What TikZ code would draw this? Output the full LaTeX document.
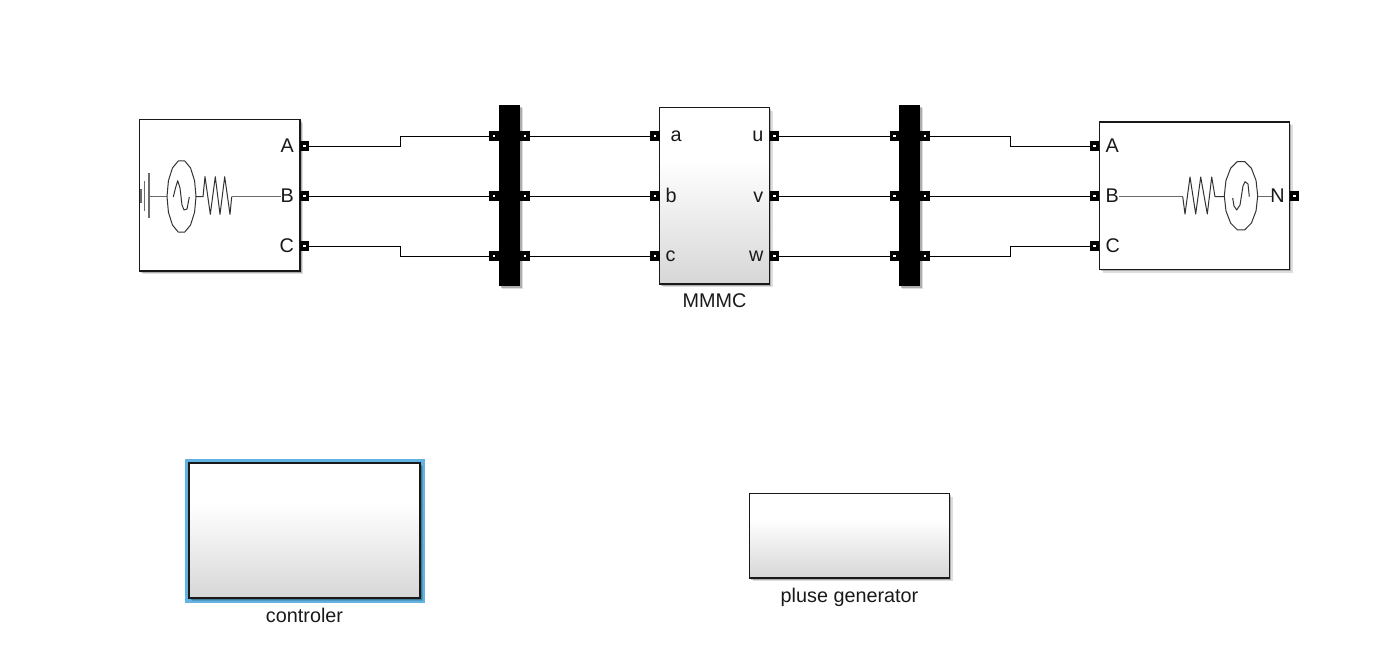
\documentclass[tikz,border=0pt]{standalone}
\usepackage{fontspec}
\setmainfont{Liberation Sans}
\usetikzlibrary{shadows,calc}
\pgfdeclareverticalshading{blockshade}{100bp}{color(0bp)=(black!16); color(25bp)=(black!16); color(40bp)=(black!9); color(60bp)=(white); color(100bp)=(white)}
\definecolor{selblue}{RGB}{98,178,226}
\tikzset{
  x=1pt,y=-1pt,
  softshadow/.style={
    general shadow={shadow xshift=3.2pt,shadow yshift=-3.2pt,opacity=.13,fill=black},
    general shadow={shadow xshift=1.8pt,shadow yshift=-1.8pt,opacity=.22,fill=black}},
  plainblock/.style={draw=black!90,line width=1.3pt,fill=white,inner sep=0pt,softshadow},
  gradblock/.style={draw=black!90,line width=1.3pt,shading=blockshade,inner sep=0pt,softshadow},
  busbar/.style={fill=black,draw=none,inner sep=0pt,softshadow},
  port/.style={draw=black,line width=3.6pt,fill=white,minimum size=6pt,inner sep=0pt,outer sep=1.8pt},
  wire/.style={draw=black,line width=1.2pt},
  icon/.style={draw=black!80,line width=1pt,line join=round},
  iconlead/.style={draw=black!58,line width=1.3pt},
  lbl/.style={font=\fontsize{19.8}{21}\selectfont,inner sep=0pt,text=black!90},
}
\newcommand{\blocknode}[6]{\node[#1,anchor=north west,minimum width=#4pt,minimum height=#5pt] (#6) at (#2,#3) {};}
\begin{document}
\begin{tikzpicture}
\useasboundingbox (0,0) rectangle (1400,665);
% blocks
\blocknode{plainblock}{138.9}{118.9}{160.5}{151.5}{src}
\blocknode{plainblock}{1098.9}{121.4}{190}{147.5}{load}
\blocknode{gradblock}{658.9}{106.9}{110}{176.5}{mmmc}
\blocknode{busbar}{499}{105}{21}{181}{busL}
\blocknode{busbar}{899}{105}{21}{181}{busR}
\node[draw=none,fill=selblue,anchor=north west,minimum width=240pt,minimum height=144pt,inner sep=0pt] (selection) at (185,459) {};
\blocknode{gradblock}{188.4}{462.4}{231}{135}{ctrl}
\blocknode{gradblock}{748.9}{492.9}{200}{84.5}{pulse}
% ports
\foreach \n/\yy in {A/146.2,B/196.2,C/246.2}{
  \node[port] (src\n) at (304.5,\yy) {};
  \node[port] (load\n) at (1094.5,\yy) {};
}
\node[port] (loadN) at (1294.5,196.2) {};
\foreach \n/\yy in {1/136.2,2/196.2,3/256.2}{
  \node[port] (bLi\n) at (494,\yy) {};
  \node[port] (bLo\n) at (524.7,\yy) {};
  \node[port] (mi\n) at (654.7,\yy) {};
  \node[port] (mo\n) at (774.3,\yy) {};
  \node[port] (bRi\n) at (894.5,\yy) {};
  \node[port] (bRo\n) at (924.7,\yy) {};
}
% wires
\coordinate (kA) at (400.5,141);
\coordinate (kC) at (400.5,251);
\coordinate (kD) at (1010.5,141);
\coordinate (kF) at (1010.5,251);
\draw[wire] (srcA.east) -| (kA) |- (bLi1.west);
\draw[wire] (srcB.east) -- (bLi2.west);
\draw[wire] (srcC.east) -| (kC) |- (bLi3.west);
\foreach \i in {1,2,3}{
  \draw[wire] (bLo\i.east) -- (mi\i.west);
  \draw[wire] (mo\i.east) -- (bRi\i.west);
}
\draw[wire] (bRo1.east) -| (kD) |- (loadA.west);
\draw[wire] (bRo2.east) -- (loadB.west);
\draw[wire] (bRo3.east) -| (kF) |- (loadC.west);
% source icon
\draw[iconlead] (149,173) -- (149,218) (144.7,181) -- (144.7,211);
\draw[iconlead,line width=1.8pt] (141,189) -- (141,203);
\draw[iconlead] (149,196.7) -- (167,196.7);
\draw[icon] plot[samples=15,domain=0:360] ({181.5+14.5*cos(\x)},{196.5+36.5*sin(\x)});
\draw[icon] (173.3,197) -- (175.5,188) -- (177.7,180.7) -- (180,188) -- (182,205) -- (184,210) -- (187,209) -- (189.3,197);
\draw[icon] (196,196.7) -- (203,196.7) -- (205,176.7) -- (210.3,214.3) -- (215.3,176.7) -- (220,214.3) -- (224.7,176.7) -- (230,214.3) -- (231.7,196.7);
\draw[iconlead] (231.7,196.7) -- (281,196.7);
% load icon
\draw[iconlead] (1119,196.7) -- (1182.7,196.7);
\draw[icon] (1182.7,196.7) -- (1185,214) -- (1190,177) -- (1195.7,214) -- (1200.7,177) -- (1207.3,214) -- (1211.7,177) -- (1215,196.7) -- (1224.3,196.7);
\draw[icon] plot[samples=15,domain=0:360] ({1241+16.7*cos(\x)},{195.7+35*sin(\x)});
\draw[icon] (1232.7,198) -- (1234,206) -- (1236.7,210) -- (1240,205) -- (1243,186) -- (1245,181.7) -- (1248,184) -- (1249.3,196.7);
\draw[iconlead] (1257.7,196.7) -- (1272,196.7);
% labels
\node[lbl,anchor=base east] (tA) at (294,152.7) {A};
\node[lbl,anchor=base east] (tB) at (294,202.5) {B};
\node[lbl,anchor=base east] (tC) at (294,252.5) {C};
\node[lbl,anchor=base west] (ta) at (1105.5,152) {A};
\node[lbl,anchor=base west] (tb) at (1105.5,202.5) {B};
\node[lbl,anchor=base west] (tc) at (1105.5,252) {C};
\node[lbl,anchor=base] (tN) at (1277.5,202.5) {N};
\node[lbl,anchor=base west] (la) at (670.5,141.7) {a};
\node[lbl,anchor=base west] (lb) at (665.5,202.3) {b};
\node[lbl,anchor=base west] (lc) at (665.5,261.7) {c};
\node[lbl,anchor=base east] (lu) at (763.5,141.7) {u};
\node[lbl,anchor=base east] (lv) at (763.5,202.3) {v};
\node[lbl,anchor=base east] (lw) at (763.5,261.7) {w};
\node[lbl,anchor=base] (tm) at (714.5,307.7) {MMMC};
\node[lbl,anchor=base] (tct) at (304.5,622) {controler};
\node[lbl,anchor=base] (tpu) at (849.5,602) {pluse generator};
\end{tikzpicture}
\end{document}
